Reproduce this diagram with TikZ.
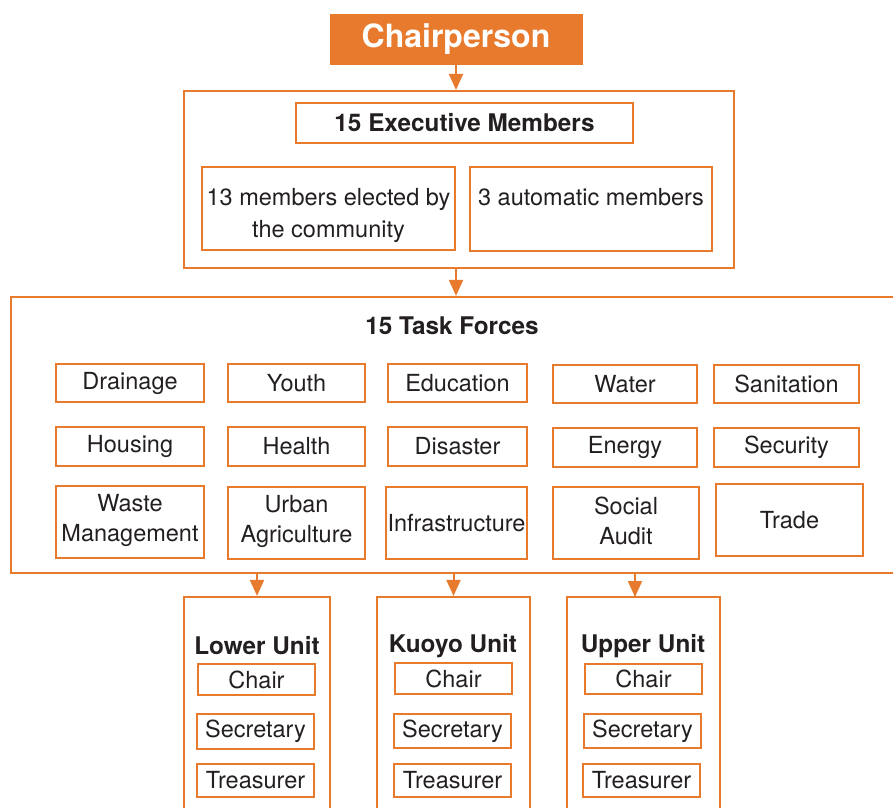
\documentclass[tikz,border=0pt]{standalone}
\usepackage{fontspec}
\setmainfont{TeX Gyre Heros}
\usetikzlibrary{arrows.meta}
\definecolor{orc}{RGB}{232,122,45}
\definecolor{txt}{RGB}{35,31,32}
\begin{document}
\begin{tikzpicture}[x=1pt,y=-1pt,
  outerbox/.style={draw=orc, line width=2.2pt, inner sep=0pt},
  inbox/.style={draw=orc, line width=1.2pt, inner sep=0pt, text=txt, align=center,
    font=\fontsize{23.5}{30}\selectfont},
  boldtxt/.style={text=txt, inner sep=0pt, font=\bfseries\fontsize{24.3}{28}\selectfont},
  arr/.style={draw=orc, line width=2pt, -{Triangle[length=16pt,width=14pt]}},
  tf/.style={inbox, minimum width=#1},
  shifted/.style={text=txt, align=center, inner sep=0pt, font=\fontsize{23.5}{32}\selectfont},
]
\clip (0,0) rectangle (893,807);
% Chairperson
\node[fill=orc, draw=orc, text=white, minimum width=252pt, minimum height=50pt, inner sep=0pt,
  font=\bfseries\fontsize{32}{36}\selectfont] (chair) at (456,39) {Chairperson};
% Executive
\node[outerbox, minimum width=550pt, minimum height=177pt] (exec) at (459,179.5) {};
\node[inbox, minimum width=337pt, minimum height=40pt, font=\bfseries\fontsize{24.3}{28}\selectfont] (em) at (464.5,123) {15 Executive Members};
\node[inbox, minimum width=253pt, minimum height=83pt,
  label={[shifted, yshift=-7pt]center:13 members elected by\\the community}] (m13) at (328.5,208.5) {};
\node[inbox, minimum width=242pt, minimum height=84pt,
  label={[shifted, yshift=-9pt]center:3 automatic members\\\strut}] (m3) at (591,209) {};
% Task forces
\node[outerbox, minimum width=894pt, minimum height=276pt] (task) at (458,435) {};
\node[boldtxt] (tft) at (452,326) {15 Task Forces};
% row 1
\node[tf=148pt, minimum height=38pt] (drain) at (130,383) {Drainage};
\node[tf=137pt, minimum height=38pt] (youth) at (296.5,383) {Youth};
\node[tf=139pt, minimum height=38pt] (edu) at (457.5,383) {Education};
\node[tf=144pt, minimum height=38pt] (water) at (625,384) {Water};
\node[tf=145pt, minimum height=38pt] (sani) at (786.5,384) {Sanitation};
% row 2
\node[tf=148pt, minimum height=39pt] (hous) at (130,446.5) {Housing};
\node[tf=137pt, minimum height=39pt] (health) at (296.5,446.5) {Health};
\node[tf=139pt, minimum height=39pt] (dis) at (457.5,446.5) {Disaster};
\node[tf=144pt, minimum height=39pt] (energy) at (625,447.5) {Energy};
\node[tf=145pt, minimum height=39pt] (secu) at (786.5,447.5) {Security};
% row 3
\node[tf=148pt, minimum height=72pt,
  label={[shifted, font=\fontsize{23.5}{30}\selectfont, yshift=2pt]center:Waste\\Management}] (waste) at (130,522) {};
\node[tf=137pt, minimum height=72pt,
  label={[shifted, font=\fontsize{23.5}{30}\selectfont, yshift=2pt]center:Urban\\Agriculture}] (urban) at (296.5,523) {};
\node[tf=141pt, minimum height=72pt] (infra) at (456.5,523) {Infrastructure};
\node[tf=146pt, minimum height=72pt,
  label={[shifted, font=\fontsize{23.5}{30}\selectfont, yshift=2pt]center:Social\\Audit}] (social) at (626,523) {};
\node[tf=147pt, minimum height=72pt] (trade) at (789.5,520) {Trade};
% Units
\node[outerbox, minimum width=146pt, minimum height=226pt] (lower) at (257,710) {};
\node[outerbox, minimum width=153pt, minimum height=226pt] (kuoyo) at (453.5,710) {};
\node[outerbox, minimum width=153pt, minimum height=226pt] (upper) at (643.5,710) {};
\coordinate (upin) at (635,597);
\node[boldtxt] (lt) at (257,646) {Lower Unit};
\node[boldtxt] (kt) at (453,646) {Kuoyo Unit};
\node[boldtxt] (ut) at (643,646) {Upper Unit};
\node[tf=117pt, minimum height=31pt] (lc) at (256.5,679.5) {Chair};
\node[tf=117pt, minimum height=35pt] (ls) at (255.5,731.5) {Secretary};
\node[tf=117pt, minimum height=33pt] (lr) at (255.5,780.5) {Treasurer};
\node[tf=117pt, minimum height=31pt] (kc) at (453.5,678.5) {Chair};
\node[tf=117pt, minimum height=34pt] (ks) at (452.5,731) {Secretary};
\node[tf=117pt, minimum height=33pt] (kr) at (452.5,780.5) {Treasurer};
\node[tf=117pt, minimum height=30pt] (uc) at (643.5,679) {Chair};
\node[tf=117pt, minimum height=34pt] (us) at (642.5,731) {Secretary};
\node[tf=117pt, minimum height=33pt] (ur) at (641.5,780.5) {Treasurer};
% Arrows
\draw[arr] (chair.south) -- (chair.south |- exec.north);
\draw[arr] (exec.south -| chair.south) -- (chair.south |- task.north);
\draw[arr] (task.south -| lower.north) -- (lower.north);
\draw[arr] (task.south -| kuoyo.north) -- (kuoyo.north);
\draw[arr] (task.south -| upin) -- (upin);
\end{tikzpicture}
\end{document}
